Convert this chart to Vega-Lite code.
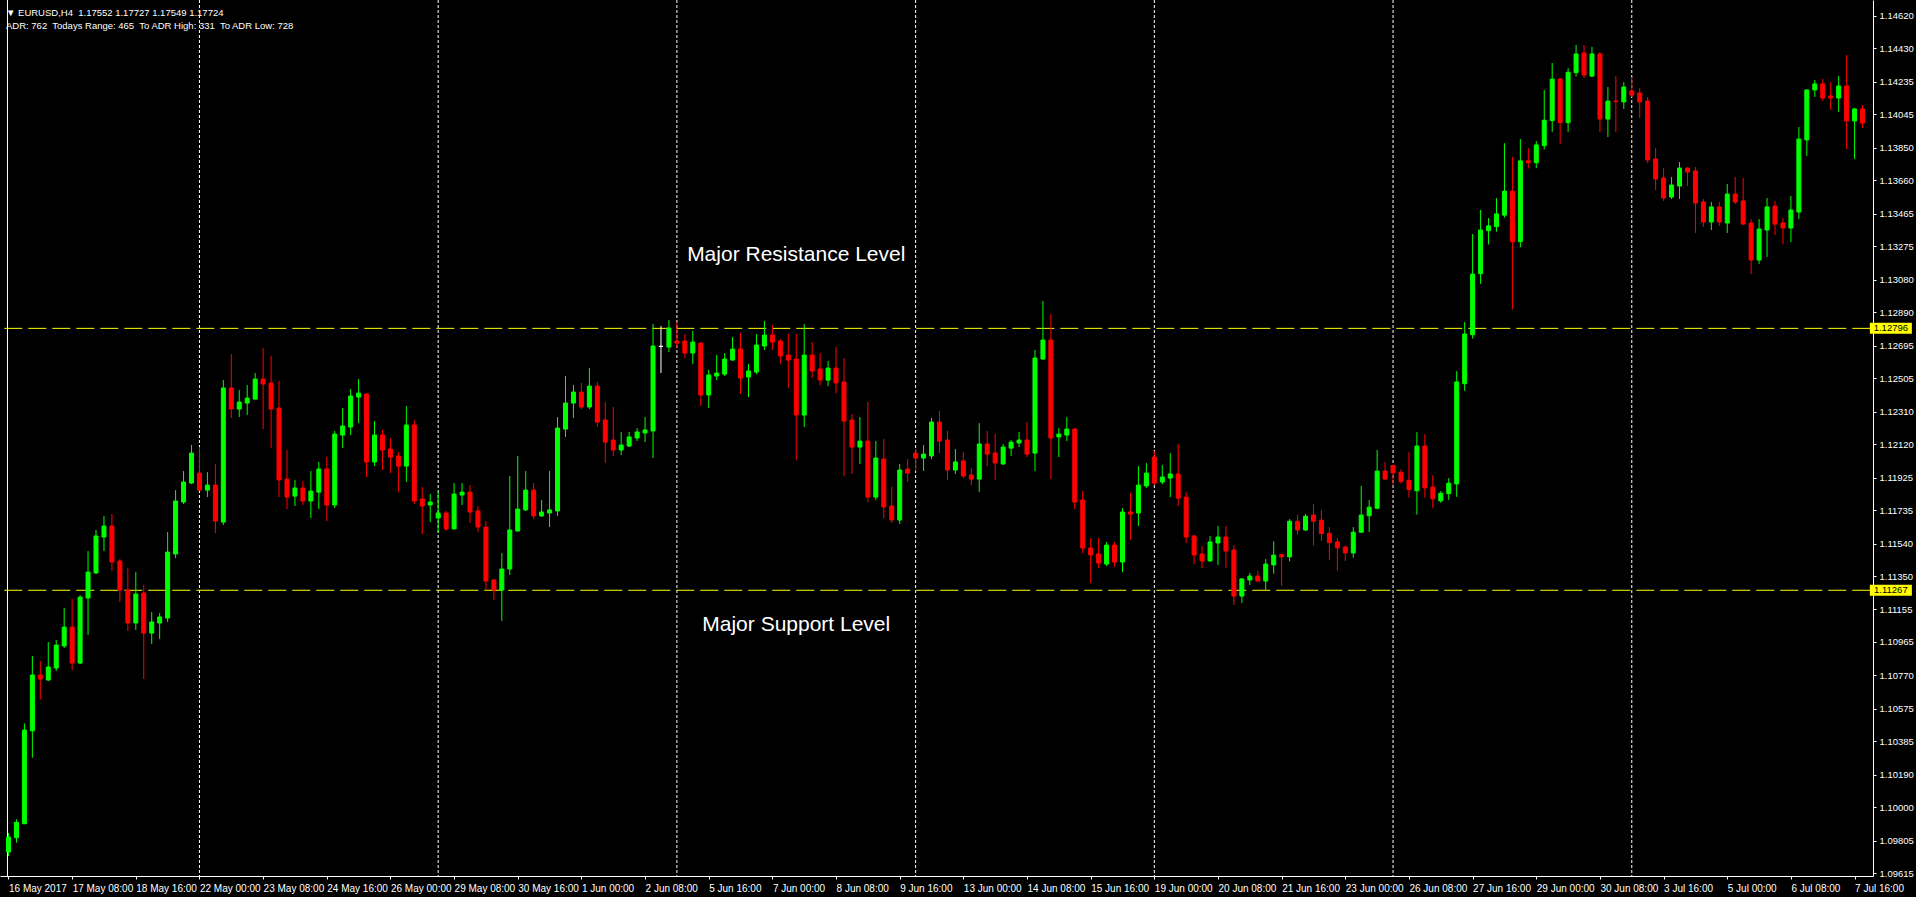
{
"$schema": "https://vega.github.io/schema/vega-lite/v6.json",
"width": 1873,
"height": 876,
"autosize": {"type": "none"},
"padding": {"left": 0, "top": 0, "right": 43, "bottom": 21},
"background": "#000000",
"config": {
  "view": {"stroke": null},
  "font": "Liberation Sans",
  "axis": {"labelColor": "#ffffff", "tickColor": "#ffffff", "domainColor": "#ffffff", "grid": false, "labelFont": "Liberation Sans", "labelFontSize": 10, "labelOverlap": false, "labelBound": false, "labelFlush": false, "labelSeparation": 0, "tickCount": 60},
  "axisY": {"labelFontSize": 9.5}
},
"title": {
  "text": "▼ EURUSD,H4\u00a0 1.17552 1.17727 1.17549 1.17724",
  "subtitle": "ADR: 762\u00a0 Todays Range: 465\u00a0 To ADR High: 331\u00a0 To ADR Low: 728",
  "anchor": "start", "frame": "group", "orient": "top", "offset": -31, "dx": 6,
  "color": "#ffffff", "subtitleColor": "#ffffff", "fontSize": 9.5, "subtitleFontSize": 9.5,
  "fontWeight": "normal", "font": "Liberation Sans", "subtitleFont": "Liberation Sans", "subtitlePadding": 4
},
"data": {"values": [
{"i":0,"o":1.09739,"h":1.0985,"l":1.09715,"c":1.09826},
{"i":1,"o":1.09822,"h":1.0993,"l":1.09793,"c":1.09912},
{"i":2,"o":1.09904,"h":1.1049,"l":1.09902,"c":1.10451},
{"i":3,"o":1.10447,"h":1.10883,"l":1.10289,"c":1.10772},
{"i":4,"o":1.10772,"h":1.10854,"l":1.10629,"c":1.10749},
{"i":5,"o":1.10743,"h":1.10965,"l":1.10737,"c":1.10819},
{"i":6,"o":1.10813,"h":1.10977,"l":1.10796,"c":1.10947},
{"i":7,"o":1.10942,"h":1.11163,"l":1.1093,"c":1.11052},
{"i":8,"o":1.11052,"h":1.11216,"l":1.10801,"c":1.10842},
{"i":9,"o":1.10842,"h":1.11239,"l":1.10836,"c":1.11227},
{"i":10,"o":1.11222,"h":1.11496,"l":1.11006,"c":1.11373},
{"i":11,"o":1.11368,"h":1.11619,"l":1.11362,"c":1.11584},
{"i":12,"o":1.11578,"h":1.11701,"l":1.11496,"c":1.11642},
{"i":13,"o":1.11642,"h":1.11712,"l":1.11379,"c":1.11432},
{"i":14,"o":1.11438,"h":1.11449,"l":1.11198,"c":1.11268},
{"i":15,"o":1.11268,"h":1.11397,"l":1.11029,"c":1.11076},
{"i":16,"o":1.11076,"h":1.11373,"l":1.11035,"c":1.11245},
{"i":17,"o":1.11251,"h":1.11298,"l":1.10749,"c":1.11017},
{"i":18,"o":1.11017,"h":1.1114,"l":1.10953,"c":1.11082},
{"i":19,"o":1.11076,"h":1.11134,"l":1.10982,"c":1.11111},
{"i":20,"o":1.11105,"h":1.11607,"l":1.11082,"c":1.1149},
{"i":21,"o":1.11479,"h":1.11852,"l":1.11455,"c":1.11788},
{"i":22,"o":1.11782,"h":1.11963,"l":1.11771,"c":1.11899},
{"i":23,"o":1.11893,"h":1.12115,"l":1.11887,"c":1.12068},
{"i":24,"o":1.11951,"h":1.12103,"l":1.1185,"c":1.11852},
{"i":25,"o":1.11852,"h":1.11957,"l":1.11811,"c":1.11881},
{"i":26,"o":1.11881,"h":1.12004,"l":1.11601,"c":1.11671},
{"i":27,"o":1.11665,"h":1.12494,"l":1.11648,"c":1.12448},
{"i":28,"o":1.12448,"h":1.12646,"l":1.12273,"c":1.12325},
{"i":29,"o":1.12325,"h":1.12436,"l":1.12278,"c":1.12366},
{"i":30,"o":1.1236,"h":1.12465,"l":1.1229,"c":1.12389},
{"i":31,"o":1.12383,"h":1.12535,"l":1.12381,"c":1.125},
{"i":32,"o":1.125,"h":1.12681,"l":1.12208,"c":1.12471},
{"i":33,"o":1.12477,"h":1.12635,"l":1.12097,"c":1.12325},
{"i":34,"o":1.12331,"h":1.12489,"l":1.11811,"c":1.11911},
{"i":35,"o":1.11916,"h":1.12086,"l":1.11741,"c":1.11811},
{"i":36,"o":1.11817,"h":1.11911,"l":1.11759,"c":1.11864},
{"i":37,"o":1.11864,"h":1.11905,"l":1.11765,"c":1.11788},
{"i":38,"o":1.11788,"h":1.11963,"l":1.11689,"c":1.11846},
{"i":39,"o":1.1184,"h":1.12016,"l":1.11741,"c":1.11975},
{"i":40,"o":1.11975,"h":1.12045,"l":1.11671,"c":1.11765},
{"i":41,"o":1.11765,"h":1.12197,"l":1.11747,"c":1.12179},
{"i":42,"o":1.12173,"h":1.12331,"l":1.12097,"c":1.12226},
{"i":43,"o":1.1222,"h":1.12442,"l":1.12173,"c":1.12401},
{"i":44,"o":1.12395,"h":1.125,"l":1.12243,"c":1.12418},
{"i":45,"o":1.12413,"h":1.12416,"l":1.11928,"c":1.12016},
{"i":46,"o":1.12016,"h":1.12255,"l":1.11992,"c":1.12173},
{"i":47,"o":1.12173,"h":1.12203,"l":1.11969,"c":1.12086},
{"i":48,"o":1.12092,"h":1.12156,"l":1.11951,"c":1.12045},
{"i":49,"o":1.12051,"h":1.12074,"l":1.1184,"c":1.11992},
{"i":50,"o":1.11992,"h":1.12343,"l":1.11899,"c":1.12232},
{"i":51,"o":1.12232,"h":1.12261,"l":1.11771,"c":1.11788},
{"i":52,"o":1.118,"h":1.1187,"l":1.11595,"c":1.11759},
{"i":53,"o":1.11765,"h":1.11829,"l":1.11665,"c":1.11782},
{"i":54,"o":1.11689,"h":1.1184,"l":1.11601,"c":1.11718},
{"i":55,"o":1.11718,"h":1.1173,"l":1.11613,"c":1.11625},
{"i":56,"o":1.11625,"h":1.11893,"l":1.11622,"c":1.11829},
{"i":57,"o":1.11823,"h":1.11893,"l":1.11765,"c":1.1184},
{"i":58,"o":1.1184,"h":1.11881,"l":1.1166,"c":1.11724},
{"i":59,"o":1.1173,"h":1.11759,"l":1.11607,"c":1.11636},
{"i":60,"o":1.11636,"h":1.11671,"l":1.11268,"c":1.11321},
{"i":61,"o":1.11327,"h":1.11333,"l":1.1121,"c":1.11268},
{"i":62,"o":1.11268,"h":1.11484,"l":1.11088,"c":1.11391},
{"i":63,"o":1.11391,"h":1.11934,"l":1.11356,"c":1.11619},
{"i":64,"o":1.11613,"h":1.12051,"l":1.1161,"c":1.11741},
{"i":65,"o":1.11736,"h":1.11963,"l":1.1173,"c":1.11852},
{"i":66,"o":1.11852,"h":1.11893,"l":1.11683,"c":1.11701},
{"i":67,"o":1.11701,"h":1.11794,"l":1.11695,"c":1.11724},
{"i":68,"o":1.11718,"h":1.11963,"l":1.11636,"c":1.11736},
{"i":69,"o":1.1173,"h":1.12278,"l":1.11701,"c":1.12214},
{"i":70,"o":1.12208,"h":1.12518,"l":1.12162,"c":1.1236},
{"i":71,"o":1.1236,"h":1.12465,"l":1.12273,"c":1.12424},
{"i":72,"o":1.12424,"h":1.12477,"l":1.12325,"c":1.12337},
{"i":73,"o":1.12337,"h":1.12564,"l":1.12325,"c":1.12459},
{"i":74,"o":1.12459,"h":1.12483,"l":1.1222,"c":1.12249},
{"i":75,"o":1.12261,"h":1.12366,"l":1.1201,"c":1.12132},
{"i":76,"o":1.12144,"h":1.12337,"l":1.12051,"c":1.12086},
{"i":77,"o":1.12086,"h":1.12191,"l":1.12057,"c":1.12115},
{"i":78,"o":1.12109,"h":1.12191,"l":1.12103,"c":1.12162},
{"i":79,"o":1.12156,"h":1.12214,"l":1.12138,"c":1.12191},
{"i":80,"o":1.12185,"h":1.12278,"l":1.12132,"c":1.12203},
{"i":81,"o":1.12197,"h":1.12821,"l":1.12039,"c":1.12693},
{"i":82,"o":1.12691,"h":1.1281,"l":1.12535,"c":1.12691},
{"i":83,"o":1.12687,"h":1.12845,"l":1.12658,"c":1.12798},
{"i":84,"o":1.12722,"h":1.12833,"l":1.12681,"c":1.1271},
{"i":85,"o":1.12722,"h":1.12763,"l":1.12623,"c":1.12652},
{"i":86,"o":1.12652,"h":1.12781,"l":1.12588,"c":1.12716},
{"i":87,"o":1.1271,"h":1.12713,"l":1.12343,"c":1.12407},
{"i":88,"o":1.12407,"h":1.12553,"l":1.12331,"c":1.12524},
{"i":89,"o":1.12518,"h":1.1264,"l":1.12494,"c":1.12535},
{"i":90,"o":1.12529,"h":1.12652,"l":1.12518,"c":1.12617},
{"i":91,"o":1.12611,"h":1.12745,"l":1.12608,"c":1.12675},
{"i":92,"o":1.12675,"h":1.12769,"l":1.12413,"c":1.12506},
{"i":93,"o":1.12512,"h":1.12588,"l":1.12395,"c":1.12547},
{"i":94,"o":1.12541,"h":1.12763,"l":1.12529,"c":1.12699},
{"i":95,"o":1.12693,"h":1.12839,"l":1.1267,"c":1.12757},
{"i":96,"o":1.12757,"h":1.12816,"l":1.1267,"c":1.12716},
{"i":97,"o":1.12722,"h":1.12734,"l":1.12588,"c":1.12635},
{"i":98,"o":1.1264,"h":1.12763,"l":1.12448,"c":1.12611},
{"i":99,"o":1.12617,"h":1.12763,"l":1.12027,"c":1.1229},
{"i":100,"o":1.1229,"h":1.12821,"l":1.1222,"c":1.1264},
{"i":101,"o":1.1264,"h":1.12716,"l":1.12506,"c":1.12547},
{"i":102,"o":1.12559,"h":1.12652,"l":1.12465,"c":1.12494},
{"i":103,"o":1.12494,"h":1.12605,"l":1.12459,"c":1.12564},
{"i":104,"o":1.12564,"h":1.12687,"l":1.12418,"c":1.12477},
{"i":105,"o":1.12483,"h":1.12623,"l":1.11934,"c":1.12255},
{"i":106,"o":1.12261,"h":1.12296,"l":1.11946,"c":1.12103},
{"i":107,"o":1.12103,"h":1.12278,"l":1.12004,"c":1.12138},
{"i":108,"o":1.12138,"h":1.12366,"l":1.11782,"c":1.11811},
{"i":109,"o":1.11811,"h":1.12138,"l":1.11794,"c":1.12039},
{"i":110,"o":1.12033,"h":1.1215,"l":1.11689,"c":1.11753},
{"i":111,"o":1.11759,"h":1.1187,"l":1.1166,"c":1.11677},
{"i":112,"o":1.11677,"h":1.12004,"l":1.11654,"c":1.11969},
{"i":113,"o":1.11975,"h":1.12033,"l":1.11899,"c":1.11951},
{"i":114,"o":1.12068,"h":1.12092,"l":1.11963,"c":1.12039},
{"i":115,"o":1.12039,"h":1.12115,"l":1.11963,"c":1.12062},
{"i":116,"o":1.12051,"h":1.12273,"l":1.12033,"c":1.12249},
{"i":117,"o":1.12249,"h":1.12314,"l":1.12068,"c":1.12138},
{"i":118,"o":1.12144,"h":1.12197,"l":1.11911,"c":1.11969},
{"i":119,"o":1.11969,"h":1.12092,"l":1.11946,"c":1.12016},
{"i":120,"o":1.12022,"h":1.12074,"l":1.11922,"c":1.11934},
{"i":121,"o":1.1194,"h":1.11981,"l":1.11881,"c":1.11916},
{"i":122,"o":1.11916,"h":1.12243,"l":1.1184,"c":1.12121},
{"i":123,"o":1.12121,"h":1.12197,"l":1.11992,"c":1.12062},
{"i":124,"o":1.12068,"h":1.12179,"l":1.11911,"c":1.1201},
{"i":125,"o":1.12004,"h":1.12121,"l":1.12001,"c":1.12103},
{"i":126,"o":1.12097,"h":1.12144,"l":1.12051,"c":1.12132},
{"i":127,"o":1.12127,"h":1.12191,"l":1.12103,"c":1.12144},
{"i":128,"o":1.12144,"h":1.12249,"l":1.12045,"c":1.12062},
{"i":129,"o":1.12068,"h":1.1267,"l":1.11963,"c":1.12623},
{"i":130,"o":1.12617,"h":1.12956,"l":1.12611,"c":1.12728},
{"i":131,"o":1.12728,"h":1.1288,"l":1.11916,"c":1.12156},
{"i":132,"o":1.12162,"h":1.12214,"l":1.12045,"c":1.12179},
{"i":133,"o":1.12173,"h":1.12278,"l":1.12138,"c":1.12208},
{"i":134,"o":1.12208,"h":1.12214,"l":1.11741,"c":1.11782},
{"i":135,"o":1.11794,"h":1.11846,"l":1.11484,"c":1.11514},
{"i":136,"o":1.11514,"h":1.11572,"l":1.11309,"c":1.11473},
{"i":137,"o":1.11479,"h":1.11572,"l":1.11397,"c":1.11426},
{"i":138,"o":1.1142,"h":1.11549,"l":1.11409,"c":1.11531},
{"i":139,"o":1.11531,"h":1.11549,"l":1.11403,"c":1.11432},
{"i":140,"o":1.11432,"h":1.11747,"l":1.11373,"c":1.11724},
{"i":141,"o":1.11724,"h":1.11835,"l":1.1156,"c":1.11712},
{"i":142,"o":1.11718,"h":1.11992,"l":1.11642,"c":1.11881},
{"i":143,"o":1.11876,"h":1.1201,"l":1.11864,"c":1.11951},
{"i":144,"o":1.12045,"h":1.1208,"l":1.11881,"c":1.11893},
{"i":145,"o":1.11899,"h":1.11998,"l":1.11887,"c":1.11928},
{"i":146,"o":1.11922,"h":1.12068,"l":1.11811,"c":1.11946},
{"i":147,"o":1.11946,"h":1.12121,"l":1.11759,"c":1.11805},
{"i":148,"o":1.11811,"h":1.1184,"l":1.11543,"c":1.11578},
{"i":149,"o":1.11584,"h":1.1159,"l":1.1142,"c":1.11473},
{"i":150,"o":1.11479,"h":1.11525,"l":1.11397,"c":1.11438},
{"i":151,"o":1.11438,"h":1.11584,"l":1.11435,"c":1.11549},
{"i":152,"o":1.11543,"h":1.11642,"l":1.11414,"c":1.11578},
{"i":153,"o":1.11578,"h":1.11642,"l":1.11397,"c":1.11496},
{"i":154,"o":1.11502,"h":1.11531,"l":1.11181,"c":1.11233},
{"i":155,"o":1.11233,"h":1.11338,"l":1.11193,"c":1.11333},
{"i":156,"o":1.11327,"h":1.11368,"l":1.11298,"c":1.1135},
{"i":157,"o":1.1135,"h":1.11379,"l":1.11315,"c":1.11321},
{"i":158,"o":1.11321,"h":1.11449,"l":1.11268,"c":1.1142},
{"i":159,"o":1.11415,"h":1.11553,"l":1.11364,"c":1.11472},
{"i":160,"o":1.11475,"h":1.11479,"l":1.11294,"c":1.11462},
{"i":161,"o":1.11462,"h":1.11682,"l":1.11436,"c":1.1167},
{"i":162,"o":1.1167,"h":1.11708,"l":1.11591,"c":1.11619},
{"i":163,"o":1.11619,"h":1.11712,"l":1.11613,"c":1.11699},
{"i":164,"o":1.11706,"h":1.11769,"l":1.11529,"c":1.1167},
{"i":165,"o":1.11676,"h":1.11736,"l":1.11555,"c":1.11598},
{"i":166,"o":1.116,"h":1.11636,"l":1.11445,"c":1.11545},
{"i":167,"o":1.11549,"h":1.11572,"l":1.11381,"c":1.11515},
{"i":168,"o":1.11519,"h":1.11528,"l":1.11438,"c":1.11485},
{"i":169,"o":1.11485,"h":1.11636,"l":1.11458,"c":1.11606},
{"i":170,"o":1.11606,"h":1.11876,"l":1.11604,"c":1.11706},
{"i":171,"o":1.11702,"h":1.11793,"l":1.11608,"c":1.11752},
{"i":172,"o":1.11746,"h":1.12086,"l":1.1174,"c":1.11963},
{"i":173,"o":1.11963,"h":1.12016,"l":1.11912,"c":1.11916},
{"i":174,"o":1.11996,"h":1.11997,"l":1.11884,"c":1.11952},
{"i":175,"o":1.11956,"h":1.11973,"l":1.11888,"c":1.11903},
{"i":176,"o":1.11909,"h":1.12073,"l":1.11808,"c":1.11855},
{"i":177,"o":1.11848,"h":1.1219,"l":1.11708,"c":1.12109},
{"i":178,"o":1.12109,"h":1.12179,"l":1.11808,"c":1.11865},
{"i":179,"o":1.11869,"h":1.11939,"l":1.11748,"c":1.11801},
{"i":180,"o":1.11789,"h":1.11846,"l":1.11778,"c":1.11833},
{"i":181,"o":1.11831,"h":1.11922,"l":1.11795,"c":1.11892},
{"i":182,"o":1.11888,"h":1.12546,"l":1.11812,"c":1.12483},
{"i":183,"o":1.12473,"h":1.12833,"l":1.12432,"c":1.12763},
{"i":184,"o":1.12759,"h":1.13347,"l":1.12736,"c":1.13113},
{"i":185,"o":1.13116,"h":1.13487,"l":1.13056,"c":1.1337},
{"i":186,"o":1.13366,"h":1.1344,"l":1.13286,"c":1.13394},
{"i":187,"o":1.1339,"h":1.13556,"l":1.1336,"c":1.13464},
{"i":188,"o":1.13457,"h":1.13877,"l":1.13443,"c":1.13597},
{"i":189,"o":1.13597,"h":1.13797,"l":1.12906,"c":1.13302},
{"i":190,"o":1.13302,"h":1.13901,"l":1.1327,"c":1.13774},
{"i":191,"o":1.13774,"h":1.13848,"l":1.13729,"c":1.13763},
{"i":192,"o":1.13763,"h":1.1389,"l":1.13731,"c":1.13867},
{"i":193,"o":1.13863,"h":1.14188,"l":1.1384,"c":1.14011},
{"i":194,"o":1.14009,"h":1.14345,"l":1.13943,"c":1.14251},
{"i":195,"o":1.14251,"h":1.1426,"l":1.13873,"c":1.13997},
{"i":196,"o":1.13997,"h":1.14315,"l":1.13943,"c":1.14291},
{"i":197,"o":1.14289,"h":1.14451,"l":1.14266,"c":1.14398},
{"i":198,"o":1.14404,"h":1.1445,"l":1.14258,"c":1.14275},
{"i":199,"o":1.14269,"h":1.14439,"l":1.14263,"c":1.14398},
{"i":200,"o":1.14398,"h":1.14409,"l":1.13942,"c":1.14018},
{"i":201,"o":1.14018,"h":1.14205,"l":1.13913,"c":1.14123},
{"i":202,"o":1.14123,"h":1.14269,"l":1.13942,"c":1.1412},
{"i":203,"o":1.14118,"h":1.14234,"l":1.14077,"c":1.14205},
{"i":204,"o":1.14182,"h":1.14263,"l":1.14147,"c":1.14158},
{"i":205,"o":1.1417,"h":1.14199,"l":1.14024,"c":1.14118},
{"i":206,"o":1.14123,"h":1.14147,"l":1.13761,"c":1.13779},
{"i":207,"o":1.13785,"h":1.13849,"l":1.13604,"c":1.13668},
{"i":208,"o":1.13674,"h":1.13732,"l":1.1354,"c":1.13557},
{"i":209,"o":1.13563,"h":1.1368,"l":1.13551,"c":1.13633},
{"i":210,"o":1.13627,"h":1.13767,"l":1.13551,"c":1.13732},
{"i":211,"o":1.13732,"h":1.13738,"l":1.13627,"c":1.13709},
{"i":212,"o":1.13715,"h":1.13738,"l":1.13353,"c":1.13528},
{"i":213,"o":1.13534,"h":1.13551,"l":1.13388,"c":1.13417},
{"i":214,"o":1.13417,"h":1.13534,"l":1.1337,"c":1.13505},
{"i":215,"o":1.13505,"h":1.13534,"l":1.13394,"c":1.13417},
{"i":216,"o":1.13411,"h":1.13639,"l":1.13353,"c":1.1358},
{"i":217,"o":1.1358,"h":1.1368,"l":1.13522,"c":1.13534},
{"i":218,"o":1.1354,"h":1.13674,"l":1.13399,"c":1.13405},
{"i":219,"o":1.13411,"h":1.13434,"l":1.13113,"c":1.13195},
{"i":220,"o":1.13195,"h":1.13434,"l":1.13172,"c":1.13376},
{"i":221,"o":1.1337,"h":1.13557,"l":1.13213,"c":1.13505},
{"i":222,"o":1.1351,"h":1.1354,"l":1.13341,"c":1.13405},
{"i":223,"o":1.13411,"h":1.1344,"l":1.13288,"c":1.13382},
{"i":224,"o":1.13382,"h":1.13569,"l":1.133,"c":1.13487},
{"i":225,"o":1.13475,"h":1.13972,"l":1.13434,"c":1.13901},
{"i":226,"o":1.13896,"h":1.14188,"l":1.13802,"c":1.14188},
{"i":227,"o":1.14188,"h":1.14246,"l":1.14147,"c":1.14223},
{"i":228,"o":1.14223,"h":1.14252,"l":1.14123,"c":1.14141},
{"i":229,"o":1.14153,"h":1.14234,"l":1.14071,"c":1.14141},
{"i":230,"o":1.14141,"h":1.14269,"l":1.14059,"c":1.14211},
{"i":231,"o":1.14211,"h":1.14392,"l":1.13843,"c":1.14007},
{"i":232,"o":1.14007,"h":1.14083,"l":1.13785,"c":1.14077},
{"i":233,"o":1.14077,"h":1.141,"l":1.13966,"c":1.13995}
]},
"layer": [
  {
    "data": {"values": [{"w":24},{"w":54},{"w":84},{"w":114},{"w":144},{"w":174},{"w":204}]},
    "mark": {"type": "rule", "color": "#ffffff", "strokeWidth": 1, "strokeDash": [3, 2]},
    "encoding": {
      "x": {"field": "w", "type": "quantitative", "title": null, "scale": {"domain": [-0.4375, 233.6875], "nice": false, "zero": false}}
    }
  },
  {
    "data": {"values": [{}]},
    "mark": {"type": "rule", "color": "#ffffff", "strokeWidth": 1},
    "encoding": {
      "x": {"datum": -0.125, "type": "quantitative", "title": null, "scale": {"domain": [-0.4375, 233.6875], "nice": false, "zero": false}}
    }
  },
  {
    "data": {"values": [{"p": 1.12796}, {"p": 1.11267}]},
    "mark": {"type": "rule", "color": "#ffff00", "strokeWidth": 1, "strokeDash": [18, 6], "strokeDashOffset": 21.3},
    "encoding": {
      "y": {"field": "p", "type": "quantitative", "title": null, "scale": {"domain": [1.095989, 1.14713], "nice": false, "zero": false}}
    }
  },
  {
    "mark": {"type": "rule", "strokeWidth": 1},
    "encoding": {
      "x": {"field": "i", "type": "quantitative", "title": null, "scale": {"domain": [-0.4375, 233.6875], "nice": false, "zero": false}},
      "y": {"field": "l", "type": "quantitative", "title": null, "scale": {"domain": [1.095989, 1.14713], "nice": false, "zero": false}},
      "y2": {"field": "h"},
      "color": {"condition": [{"test": "datum.c > datum.o", "value": "#00ff00"}, {"test": "datum.c == datum.o", "value": "#ffffff"}], "value": "#ff0000"}
    }
  },
  {
    "mark": {"type": "bar", "width": 4, "strokeWidth": 1},
    "encoding": {
      "x": {"field": "i", "type": "quantitative", "title": null, "scale": {"domain": [-0.4375, 233.6875], "nice": false, "zero": false},
        "axis": {"orient": "bottom", "title": null, "tickCount": 60, "values": [0,8,16,24,32,40,48,56,64,72,80,88,96,104,112,120,128,136,144,152,160,168,176,184,192,200,208,216,224,232],
          "labelExpr": "['16 May 2017','17 May 08:00','18 May 16:00','22 May 00:00','23 May 08:00','24 May 16:00','26 May 00:00','29 May 08:00','30 May 16:00','1 Jun 00:00','2 Jun 08:00','5 Jun 16:00','7 Jun 00:00','8 Jun 08:00','9 Jun 16:00','13 Jun 00:00','14 Jun 08:00','15 Jun 16:00','19 Jun 00:00','20 Jun 08:00','21 Jun 16:00','23 Jun 00:00','26 Jun 08:00','27 Jun 16:00','29 Jun 00:00','30 Jun 08:00','3 Jul 16:00','5 Jul 00:00','6 Jul 08:00','7 Jul 16:00'][round(datum.value/8)]",
          "tickSize": 3, "labelPadding": 4, "labelAlign": "left", "labelBaseline": "top", "labelOverlap": false, "labelBound": false, "labelFlush": false, "grid": false}},
      "y": {"field": "o", "type": "quantitative", "title": null, "scale": {"domain": [1.095989, 1.14713], "nice": false, "zero": false},
        "axis": {"orient": "right", "title": null, "tickCount": 60, "values": [1.1462,1.1443,1.14235,1.14045,1.1385,1.1366,1.13465,1.13275,1.1308,1.1289,1.12695,1.12505,1.1231,1.1212,1.11925,1.11735,1.1154,1.1135,1.11155,1.10965,1.1077,1.10575,1.10385,1.1019,1.1,1.09805,1.09615],
          "format": ".5f", "tickSize": 3, "labelPadding": 3, "labelBaseline": "middle", "labelOverlap": false, "labelBound": false, "labelFlush": false, "grid": false}},
      "y2": {"field": "c"},
      "color": {"condition": [{"test": "datum.c > datum.o", "value": "#00ff00"}, {"test": "datum.c == datum.o", "value": "#ffffff"}], "value": "#ff0000"},
      "stroke": {"condition": [{"test": "datum.c > datum.o", "value": "#00ff00"}, {"test": "datum.c == datum.o", "value": "#ffffff"}], "value": "#ff0000"}
    }
  },
  {
    "data": {"values": [{"p": 1.12796}, {"p": 1.11267}]},
    "mark": {"type": "tick", "orient": "horizontal", "color": "#ffff00", "size": 42, "thickness": 11, "opacity": 1, "clip": false},
    "encoding": {
      "x": {"datum": 236.56, "type": "quantitative", "title": null, "scale": {"domain": [-0.4375, 233.6875], "nice": false, "zero": false}},
      "y": {"field": "p", "type": "quantitative", "title": null, "scale": {"domain": [1.095989, 1.14713], "nice": false, "zero": false}}
    }
  },
  {
    "data": {"values": [{"p": 1.12796}, {"p": 1.11267}]},
    "mark": {"type": "text", "color": "#000000", "fontSize": 9.5, "font": "Liberation Sans", "align": "center", "baseline": "middle", "clip": false},
    "encoding": {
      "x": {"datum": 236.56, "type": "quantitative", "title": null, "scale": {"domain": [-0.4375, 233.6875], "nice": false, "zero": false}},
      "y": {"field": "p", "type": "quantitative", "title": null, "scale": {"domain": [1.095989, 1.14713], "nice": false, "zero": false}},
      "text": {"field": "p", "type": "quantitative", "format": ".5f"}
    }
  },
  {
    "data": {"values": [{"t": "Major Resistance Level", "idx": 99.0, "price": 1.13222}, {"t": "Major Support Level", "idx": 99.0, "price": 1.11067}]},
    "mark": {"type": "text", "color": "#ffffff", "fontSize": 21, "font": "Liberation Sans", "align": "center", "baseline": "middle"},
    "encoding": {
      "x": {"field": "idx", "type": "quantitative", "title": null, "scale": {"domain": [-0.4375, 233.6875], "nice": false, "zero": false}},
      "y": {"field": "price", "type": "quantitative", "title": null, "scale": {"domain": [1.095989, 1.14713], "nice": false, "zero": false}},
      "text": {"field": "t"}
    }
  }
]
}
